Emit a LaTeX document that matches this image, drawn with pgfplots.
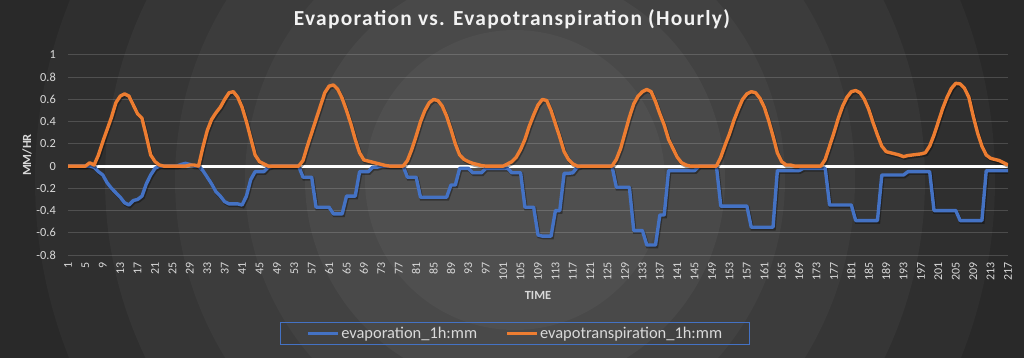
\documentclass[border=0pt]{standalone}
\usepackage{fontspec}
\setmainfont{Carlito}
\newfontfamily\titlefont[LetterSpace=6]{Carlito}
\usepackage{pgfplots}
\usepackage{pgfplotstable}
\pgfplotsset{compat=1.18}
\definecolor{evap}{HTML}{4472C4}
\definecolor{et}{HTML}{ED7D31}
\definecolor{txt}{HTML}{D9D9D9}

\pgfplotstableread{
t evap et
1 0 0
2 0 0
3 0 0
4 0 0
5 0 0
6 0 0.03
7 -0.01 0.01
8 -0.05 0.1
9 -0.08 0.22
10 -0.15 0.33
11 -0.2 0.44
12 -0.24 0.57
13 -0.28 0.63
14 -0.33 0.65
15 -0.35 0.63
16 -0.31 0.55
17 -0.3 0.47
18 -0.27 0.43
19 -0.16 0.27
20 -0.08 0.1
21 -0.02 0.04
22 0 0.01
23 0 0
24 0 0
25 0 0
26 0 0
27 0.015 0
28 0.025 0
29 0.015 0.01
30 0 0.01
31 0 0
32 -0.04 0.17
33 -0.1 0.32
34 -0.16 0.42
35 -0.23 0.48
36 -0.27 0.53
37 -0.32 0.6
38 -0.34 0.66
39 -0.34 0.67
40 -0.34 0.62
41 -0.35 0.53
42 -0.27 0.4
43 -0.12 0.25
44 -0.05 0.1
45 -0.05 0.04
46 -0.05 0.02
47 -0.01 0
48 0 0
49 0 0
50 0 0
51 0 0
52 0 0
53 0 0
54 0 0
55 -0.1 0.05
56 -0.1 0.18
57 -0.1 0.3
58 -0.37 0.42
59 -0.37 0.54
60 -0.37 0.66
61 -0.37 0.72
62 -0.43 0.73
63 -0.43 0.69
64 -0.43 0.61
65 -0.27 0.5
66 -0.27 0.38
67 -0.27 0.24
68 -0.05 0.12
69 -0.05 0.055
70 -0.05 0.045
71 -0.01 0.035
72 -0.01 0.025
73 0 0.015
74 0 0.005
75 0 0
76 0 0
77 0 0
78 0 0
79 -0.1 0.05
80 -0.1 0.15
81 -0.1 0.27
82 -0.28 0.4
83 -0.28 0.5
84 -0.28 0.57
85 -0.28 0.6
86 -0.28 0.59
87 -0.28 0.54
88 -0.28 0.45
89 -0.17 0.33
90 -0.17 0.2
91 -0.02 0.1
92 -0.02 0.06
93 -0.02 0.04
94 -0.06 0.025
95 -0.06 0.015
96 -0.06 0.005
97 -0.02 0
98 -0.02 0
99 -0.02 0
100 -0.02 0
101 -0.02 0
102 -0.02 0.02
103 -0.06 0.04
104 -0.06 0.08
105 -0.06 0.15
106 -0.37 0.24
107 -0.37 0.36
108 -0.37 0.46
109 -0.62 0.55
110 -0.63 0.6
111 -0.63 0.59
112 -0.63 0.5
113 -0.4 0.38
114 -0.4 0.26
115 -0.065 0.13
116 -0.065 0.06
117 -0.06 0.02
118 -0.01 0
119 0 0
120 0 0
121 0 0
122 0 0
123 0 0
124 0 0
125 0 0
126 0 0
127 -0.19 0.06
128 -0.19 0.16
129 -0.19 0.3
130 -0.19 0.44
131 -0.58 0.56
132 -0.58 0.63
133 -0.58 0.67
134 -0.71 0.69
135 -0.71 0.67
136 -0.71 0.58
137 -0.44 0.47
138 -0.44 0.37
139 -0.04 0.24
140 -0.04 0.16
141 -0.04 0.08
142 -0.04 0.03
143 -0.04 0.01
144 -0.04 0
145 -0.04 0
146 0 0
147 0 0
148 0 0
149 0 0
150 0 0
151 -0.36 0.08
152 -0.36 0.19
153 -0.36 0.29
154 -0.36 0.41
155 -0.36 0.51
156 -0.36 0.6
157 -0.36 0.65
158 -0.55 0.67
159 -0.55 0.66
160 -0.55 0.61
161 -0.55 0.53
162 -0.55 0.41
163 -0.55 0.27
164 -0.04 0.12
165 -0.04 0.04
166 -0.04 0.01
167 -0.04 0.01
168 -0.04 0
169 -0.04 0
170 -0.02 0
171 -0.02 0
172 -0.02 0
173 -0.02 0
174 -0.02 0
175 -0.02 0.06
176 -0.35 0.18
177 -0.35 0.3
178 -0.35 0.43
179 -0.35 0.54
180 -0.35 0.62
181 -0.35 0.67
182 -0.49 0.68
183 -0.49 0.66
184 -0.49 0.6
185 -0.49 0.51
186 -0.49 0.39
187 -0.49 0.28
188 -0.08 0.18
189 -0.08 0.13
190 -0.08 0.12
191 -0.08 0.11
192 -0.08 0.1
193 -0.08 0.085
194 -0.05 0.095
195 -0.05 0.1
196 -0.05 0.105
197 -0.05 0.11
198 -0.05 0.12
199 -0.05 0.18
200 -0.4 0.28
201 -0.4 0.4
202 -0.4 0.52
203 -0.4 0.62
204 -0.4 0.7
205 -0.4 0.745
206 -0.49 0.74
207 -0.49 0.7
208 -0.49 0.62
209 -0.49 0.45
210 -0.49 0.3
211 -0.49 0.18
212 -0.04 0.1
213 -0.04 0.07
214 -0.04 0.06
215 -0.04 0.05
216 -0.04 0.03
217 -0.04 0.01
}\datatable

\begin{document}
\begin{tikzpicture}[x=1bp,y=1bp]
\useasboundingbox (0,0) rectangle (1024,357);
\begin{scope}
\clip (0,0) rectangle (1024,357);
\fill[black!86.5] (0,0) rectangle (1024,357);
\fill[black!84] (515,177) circle (560);
\fill[black!81.5] (515,177) circle (480);
\fill[black!79] (515,177) circle (410);
\fill[black!76.5] (515,177) circle (340);
\fill[black!74] (515,177) circle (270);
\fill[black!71.5] (515,177) circle (210);
\fill[black!69] (515,177) circle (150);
\end{scope}
\begin{axis}[
  at={(68bp,102bp)}, anchor=south west,
  scale only axis, width=940bp, height=200bp,
  xmin=1, xmax=217, ymin=-0.8, ymax=1,
  /pgf/number format/assume math mode=true,
  axis line style={draw=none},
  major tick length=0pt,
  ytick={-0.8,-0.6,-0.4,-0.2,0,0.2,0.4,0.6,0.8,1},
  yticklabels={-0.8,-0.6,-0.4,-0.2,0,0.2,0.4,0.6,0.8,1},
  xtick={1,5,...,217},
  ymajorgrids,
  grid style={white, opacity=0.16, line width=1bp},
  yticklabel style={anchor=east, inner xsep=12bp, inner ysep=0pt, text=txt, font=\fontsize{12.4}{14}\selectfont},
  xticklabel style={rotate=90, anchor=east, inner xsep=7bp, inner ysep=0pt, text=txt, font=\fontsize{12}{14}\selectfont},
  xlabel={TIME}, ylabel={MM/HR},
  xlabel style={at={(axis description cs:0.5,-0.2)}, anchor=center, text=txt, font=\bfseries\fontsize{12.5}{14}\selectfont},
  ylabel style={at={(axis description cs:-0.0436,0.5)}, anchor=center, text=txt, font=\bfseries\fontsize{12.5}{14}\selectfont},
  title={Evaporation vs. Evapotranspiration (Hourly)},
  title style={at={(axis description cs:0.4723,1.15)}, anchor=center, text=white!95!black, font=\titlefont\bfseries\fontsize{21.5}{24}\selectfont},
  legend columns=2,
  legend style={at={(axis description cs:0.4755,-0.3925)}, anchor=center, draw=evap, line width=1bp, fill=none, text=txt,
    font=\fontsize{16.5}{18}\selectfont, inner xsep=26bp, inner ysep=3bp,
    nodes={inner sep=1.2bp},
    /tikz/every even column/.append style={column sep=27bp}},
  legend image code/.code={\draw[line width=3.5bp] (0bp,0bp) -- (30bp,0bp);},
]
\addplot[white, line width=3bp, forget plot] coordinates {(1,0) (217,0)};
\addplot[black, opacity=0.35, line width=3.6bp, xshift=1bp, yshift=-1.5bp, forget plot] table[x=t, y=evap] {\datatable};
\addplot[evap, line width=3.4bp, line join=round] table[x=t, y=evap] {\datatable};
\addplot[black, opacity=0.35, line width=3.6bp, xshift=1bp, yshift=-1.5bp, forget plot] table[x=t, y=et] {\datatable};
\addplot[et, line width=3.4bp, line join=round] table[x=t, y=et] {\datatable};
\legend{evaporation\_1h:mm, evapotranspiration\_1h:mm}
\end{axis}
\end{tikzpicture}
\end{document}
